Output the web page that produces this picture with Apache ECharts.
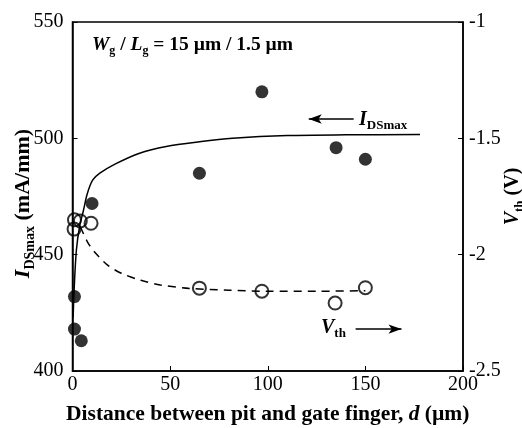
<!DOCTYPE html>
<html>
<head>
<meta charset="utf-8">
<script src="https://cdn.jsdelivr.net/npm/echarts@6/dist/echarts.min.js"></script>
<style>
	html, body { margin: 0; padding: 0; background: #fff; }
	#main { width: 522px; height: 428px; }
</style>
</head>
<body>
<div id="main"></div>
<script>
	// 测量点 I_DSmax (mA/mm)
	var idsDist = [1, 1, 4.5, 10, 65, 97, 135, 150];
	var idsVal = [432, 418, 413, 472, 485, 520, 496, 491];

	// 测量点 V_th (V)
	var vthDist = [1, 4, 9.5, 0.8, 65, 97, 134.5, 150];
	var vthVal = [-1.85, -1.855, -1.865, -1.89, -2.144, -2.157, -2.208, -2.142];

	// 拟合曲线
	var idsFitDist = [0.3, 1, 2, 3.6, 5.6, 7.5, 10.3, 14, 22, 34, 48, 65, 82, 110, 140, 178];
	var idsFitVal = [423, 438, 452, 462, 469, 476, 482, 485, 489, 493.5, 496.5, 498.5, 500, 501.2, 501.5, 501.6];
	var vthFitDist = [4, 8, 12, 18, 25, 35, 45, 60, 80, 100, 125, 150];
	var vthFitVal = [-1.88, -1.95, -1.995, -2.045, -2.08, -2.11, -2.13, -2.145, -2.153, -2.157, -2.157, -2.155];

	// 坐标轴刻度
	var xTicks = [0, 200, 50];
	var leftTicks = [400, 550, 50];
	var rightTicks = [-2.5, -1, 0.5];

	var pairs = function(xs, ys){
		var out = [];
		for(var i=0;i<xs.length;i++) out.push([xs[i], ys[i]]);
		return out;
	};

	var serif = '"Liberation Serif", "DejaVu Serif", serif';
	var chart = echarts.init(document.getElementById('main'), null, {renderer: 'canvas'});

	// 下标文字样式
	var subRich = function(size, subSize, pad){
		return {
			i: { fontFamily: serif, fontSize: size, fontWeight: 'bold', fontStyle: 'italic', color: '#000', fill: '#000', lineHeight: size + 1, verticalAlign: 'top' },
			s: { fontFamily: serif, fontSize: subSize, fontWeight: 'bold', color: '#000', fill: '#000', lineHeight: subSize, padding: [pad, 0, 0, 0], verticalAlign: 'top' },
			n: { fontFamily: serif, fontSize: size, fontWeight: 'bold', color: '#000', fill: '#000', lineHeight: size + 1, verticalAlign: 'top' }
		};
	};

	var option = {
		animation: false,
		backgroundColor: '#fff',
		textStyle: { fontFamily: serif, color: '#000' },
		grid: {
			left: 72.5, right: 59, top: 22, bottom: 57,
			outerBoundsMode: 'none',
			containLabel: false,
			show: true, borderColor: '#000', borderWidth: 1.5
		},
		xAxis: {
			type: 'value',
			min: xTicks[0], max: xTicks[1], interval: xTicks[2],
			name: 'Distance between pit and gate finger, {i|d} (µm)',
			nameLocation: 'middle',
			nameMoveOverlap: false,
			nameGap: 32,
			nameTextStyle: {
				fontFamily: serif, fontSize: 21.5, fontWeight: 'bold', color: '#000',
				rich: { i: { fontFamily: serif, fontSize: 21.5, fontWeight: 'bold', fontStyle: 'italic', color: '#000' } }
			},
			axisLine: { show: true, lineStyle: { color: '#000', width: 1.5 } },
			axisTick: { inside: true, length: 5, lineStyle: { color: '#000', width: 1 } },
			axisLabel: { fontFamily: serif, fontSize: 20, color: '#000', margin: 4 },
			splitLine: { show: false }
		},
		yAxis: [
			{
				type: 'value',
				min: leftTicks[0], max: leftTicks[1], interval: leftTicks[2],
				name: '{i|I}{s|DSmax}{n| (mA/mm)}',
				nameLocation: 'middle',
				nameMoveOverlap: false,
				nameRotate: 90,
				nameGap: 37,
				nameTextStyle: { rich: subRich(22, 14, 11), padding: [0, 14, 0, 0] },
				axisLine: { show: true, lineStyle: { color: '#000', width: 1.5 } },
				axisTick: { inside: true, length: 5, lineStyle: { color: '#000', width: 1 } },
				axisLabel: { fontFamily: serif, fontSize: 20, color: '#000', margin: 9 },
				splitLine: { show: false }
			},
			{
				type: 'value',
				position: 'right',
				min: rightTicks[0], max: rightTicks[1], interval: rightTicks[2],
				name: '{i|V}{s|th}{n| (V)}',
				nameLocation: 'middle',
				nameMoveOverlap: false,
				nameRotate: 90,
				nameGap: 40,
				nameTextStyle: { rich: subRich(20, 13, 10) },
				axisLine: { show: true, lineStyle: { color: '#000', width: 1.5 } },
				axisTick: { inside: true, length: 5, lineStyle: { color: '#000', width: 1 } },
				axisLabel: { fontFamily: serif, fontSize: 20, color: '#000', margin: 6 },
				splitLine: { show: false }
			}
		],
		series: [
			{
				name: 'IDSmax fit',
				type: 'line',
				yAxisIndex: 0,
				smooth: 0.3,
				symbol: 'none',
				lineStyle: { color: '#000', width: 1.5 },
				data: pairs(idsFitDist, idsFitVal),
				markLine: {
					silent: true,
					symbol: ['none', 'arrow'],
					symbolSize: [7, 13],
					lineStyle: { color: '#000', width: 1.5, type: 'solid' },
					label: { show: false },
					data: [[{ coord: [144, 508.3] }, { coord: [121, 508.3] }]]
				}
			},
			{
				name: 'Vth fit',
				type: 'line',
				yAxisIndex: 1,
				smooth: 0.3,
				symbol: 'none',
				lineStyle: { color: '#000', width: 1.5, type: [8, 6] },
				data: pairs(vthFitDist, vthFitVal),
				markLine: {
					silent: true,
					symbol: ['none', 'arrow'],
					symbolSize: [7, 13],
					lineStyle: { color: '#000', width: 1.5, type: 'solid' },
					label: { show: false },
					data: [[{ coord: [145, -2.32] }, { coord: [168.5, -2.32] }]]
				}
			},
			{
				name: 'IDSmax',
				type: 'scatter',
				yAxisIndex: 0,
				symbol: 'circle',
				symbolSize: 13,
				itemStyle: { color: '#000' },
				data: pairs(idsDist, idsVal)
			},
			{
				name: 'Vth',
				type: 'scatter',
				yAxisIndex: 1,
				symbol: 'circle',
				symbolSize: 13,
				itemStyle: { color: 'rgba(0,0,0,0)', borderColor: '#000', borderWidth: 2 },
				data: pairs(vthDist, vthVal)
			}
		],
		graphic: [
			{
				type: 'text',
				left: 92, top: 35,
				style: {
					text: '{i|W}{s|g}{n| / }{i|L}{s|g}{n| = 15 µm / 1.5 µm}',
					rich: subRich(19.5, 12, 10)
				}
			},
			{
				type: 'text',
				left: 359, top: 110,
				style: { text: '{i|I}{s|DSmax}', rich: subRich(20, 13, 9) }
			},
			{
				type: 'text',
				left: 321, top: 318,
				style: { text: '{i|V}{s|th}', rich: subRich(20, 13, 9) }
			}
		]
	};
	chart.setOption(option);
</script>
</body>
</html>
